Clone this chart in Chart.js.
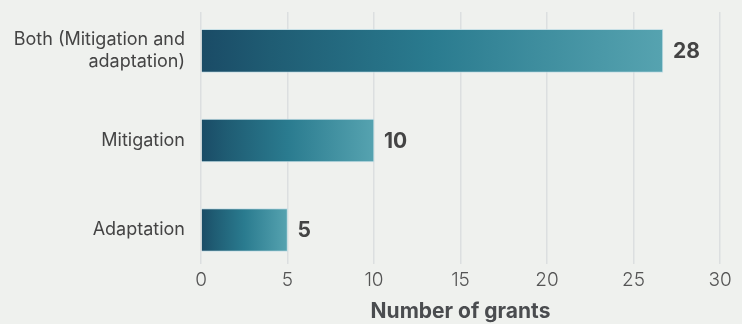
<!DOCTYPE html>
<html><head><meta charset="utf-8">
<script src="https://cdn.jsdelivr.net/npm/chart.js@4"></script>
<style>html,body{margin:0;padding:0;background:#eff1ee}#wrap{width:742px;height:324px;position:relative}</style>
</head><body><div id="wrap"><canvas id="c"></canvas></div>
<script>
const categories = [["Both (Mitigation and", "adaptation)"], "Mitigation", "Adaptation"];
const grantValues = [26.7, 10, 5];
const valueLabels = ["28", "10", "5"];
const xTickValues = [0, 5, 10, 15, 20, 25, 30];
const axisTitle = "Number of grants";

const FONT = "Inter, 'Liberation Sans', Arial, sans-serif";

function barGradient(context) {
  const chart = context.chart;
  const xs = chart.scales.x;
  if (!xs || context.dataIndex === undefined) return '#2a7990';
  const v = grantValues[context.dataIndex];
  const x0 = xs.getPixelForValue(0), x1 = xs.getPixelForValue(v);
  if (!isFinite(x0) || !isFinite(x1) || x1 === x0) return '#2a7990';
  const g = chart.ctx.createLinearGradient(x0, 0, x1, 0);
  g.addColorStop(0, '#1a4b66');
  g.addColorStop(0.15, '#1f5c73');
  g.addColorStop(0.5, '#2a7b8f');
  g.addColorStop(1, '#56a3b0');
  return g;
}

const valueLabelPlugin = {
  id: 'valueLabels',
  afterDatasetsDraw(chart) {
    const ctx = chart.ctx;
    const meta = chart.getDatasetMeta(0);
    ctx.save();
    ctx.font = "bold 21px " + FONT;
    ctx.fillStyle = '#444444';
    ctx.textAlign = 'left';
    ctx.textBaseline = 'middle';
    meta.data.forEach((bar, i) => {
      ctx.fillText(valueLabels[i], bar.x + 10, bar.y + 1);
    });
    ctx.restore();
  }
};

new Chart(document.getElementById('c'), {
  type: 'bar',
  data: {
    datasets: [{
      data: grantValues.map((v, i) => ({ x: v, y: i })),
      backgroundColor: barGradient,
      borderWidth: 1,
      borderColor: 'rgba(190,220,228,0.8)',
      barThickness: 43
    }]
  },
  options: {
    indexAxis: 'y',
    responsive: true,
    maintainAspectRatio: false,
    animation: false,
    layout: { padding: { top: 12, right: 22, left: 0, bottom: 0 } },
    plugins: { legend: { display: false }, tooltip: { enabled: false } },
    scales: {
      x: {
        type: 'linear',
        min: 0, max: 30,
        afterBuildTicks: (s) => { s.ticks = xTickValues.map(v => ({ value: v })); },
        afterFit: (s) => { s.height = 60; s.paddingLeft = 0; s.paddingRight = 0; },
        grid: { color: '#dcdfe0', lineWidth: 1.5, drawTicks: false },
        border: { display: false },
        ticks: { color: '#555555', padding: 5, font: { family: FONT, size: 19, weight: '300' } },
        title: {
          display: true, text: axisTitle, color: '#4a4c4f',
          font: { family: FONT, size: 21, weight: 'bold' },
          padding: { top: 0, bottom: 0 }
        }
      },
      y: {
        type: 'linear',
        reverse: true,
        offset: false,
        min: -0.435, max: 2.38,
        afterBuildTicks: (s) => { s.ticks = categories.map((c, i) => ({ value: i })); },
        afterFit: (s) => { s.width = 201; s.paddingTop = 0; s.paddingBottom = 0; },
        grid: { display: false },
        border: { display: false },
        ticks: {
          color: '#444444', padding: 8,
          font: { family: FONT, size: 18, lineHeight: 1.22 },
          callback: (v) => categories[v]
        }
      }
    }
  },
  plugins: [valueLabelPlugin]
});
</script>
</body></html>
